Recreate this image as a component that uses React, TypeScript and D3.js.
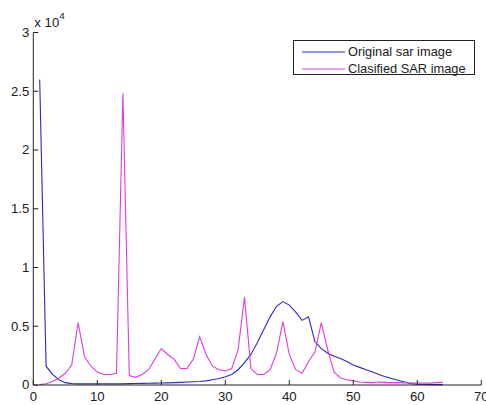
import React from "react";
import * as d3 from "d3";

const xTicks = [0, 10, 20, 30, 40, 50, 60, 70];
const yTicks = [0, 0.5, 1, 1.5, 2, 2.5, 3];
const yTickLabels = ["0", "0.5", "1", "1.5", "2", "2.5", "3"];
const seriesNames = ["Original sar image", "Clasified SAR image"];

// values in units of 10^4, for bins x = 1..64
const original = [
  2.6, 0.16, 0.09, 0.045, 0.02, 0.012, 0.01, 0.01, 0.01, 0.01,
  0.01, 0.01, 0.01, 0.01, 0.012, 0.013, 0.014, 0.015, 0.016, 0.017,
  0.018, 0.02, 0.022, 0.025, 0.028, 0.03, 0.035, 0.045, 0.055, 0.07,
  0.09, 0.13, 0.19, 0.26, 0.36, 0.47, 0.58, 0.67, 0.71, 0.68,
  0.62, 0.55, 0.58, 0.37, 0.31, 0.27, 0.245, 0.225, 0.2, 0.17,
  0.15, 0.13, 0.11, 0.09, 0.07, 0.055, 0.04, 0.025, 0.012, 0.006,
  0.004, 0.003, 0.003, 0.003,
];
const classified = [
  0.003, 0.01, 0.03, 0.06, 0.1, 0.17, 0.53, 0.24, 0.16, 0.11,
  0.09, 0.09, 0.1, 2.48, 0.08, 0.065, 0.09, 0.13, 0.22, 0.31,
  0.26, 0.22, 0.14, 0.14, 0.22, 0.41, 0.26, 0.16, 0.13, 0.12,
  0.14, 0.3, 0.75, 0.14, 0.09, 0.09, 0.13, 0.27, 0.54, 0.26,
  0.13, 0.1, 0.2, 0.28, 0.53, 0.3, 0.11, 0.06, 0.045, 0.035,
  0.025, 0.022, 0.02, 0.025, 0.022, 0.02, 0.02, 0.018, 0.017, 0.016,
  0.016, 0.016, 0.02, 0.022,
];

const colors = ["#2a2ac4", "#dd3ddd"];

function T(props: {
  x: number;
  y: number;
  anchor?: string;
  size?: number;
  sx?: number;
  children: React.ReactNode;
}) {
  return (
    <text
      transform={`translate(${props.x},${props.y}) scale(${props.sx || 1.1},1)`}
      textAnchor={props.anchor || "start"}
      fontSize={props.size || 12}
      fill="#222"
    >
      {props.children}
    </text>
  );
}

export default function App() {
  const x = d3.scaleLinear().domain([0, 70]).range([33.3, 481.3]);
  const y = d3.scaleLinear().domain([0, 3]).range([385, 32.5]);
  const line = d3
    .line<number>()
    .x((_, i) => x(i + 1))
    .y((d) => y(d));
  const font = "'Liberation Sans', Arial, sans-serif";
  const axisColor = "#222";
  return (
    <svg
      width={486}
      height={405}
      style={{ position: "absolute", left: 0, top: 0, background: "#fff" }}
      fontFamily={font}
    >
      <rect width={486} height={405} fill="#fff" />
      {[original, classified].map((s, k) => (
        <path key={k} d={line(s) || ""} fill="none" stroke={colors[k]} strokeWidth={1.1} />
      ))}
      {/* axes */}
      <line x1={x(0)} x2={x(0)} y1={y(0)} y2={y(3)} stroke={axisColor} />
      <line x1={x(0)} x2={x(70)} y1={y(0)} y2={y(0)} stroke={axisColor} />
      {yTicks.map((t, i) => (
        <g key={"y" + i}>
          <line x1={x(0)} x2={x(0) + 5} y1={y(t)} y2={y(t)} stroke={axisColor} />
          <T x={x(0) - 4} y={y(t) + 4.3} anchor="end">
            {yTickLabels[i]}
          </T>
        </g>
      ))}
      {xTicks.map((t, i) => (
        <g key={"x" + i}>
          <line x1={x(t)} x2={x(t)} y1={y(0)} y2={y(0) - 5} stroke={axisColor} />
          <T x={x(t)} y={y(0) + 16} anchor="middle">
            {t}
          </T>
        </g>
      ))}
      <T x={x(0) + 1} y={27} size={12}>
        x 10
        <tspan dy={-8} fontSize={9}>4</tspan>
      </T>
      {/* legend */}
      <rect x={293.5} y={40.5} width={181} height={34} fill="#fff" stroke={axisColor} />
      {seriesNames.map((n, i) => (
        <g key={"l" + i}>
          <line x1={302} x2={345} y1={52 + i * 17} y2={52 + i * 17} stroke={colors[i]} strokeWidth={1} />
          <T x={348} y={52 + i * 17 + 4.3} sx={1.07}>
            {n}
          </T>
        </g>
      ))}
    </svg>
  );
}
